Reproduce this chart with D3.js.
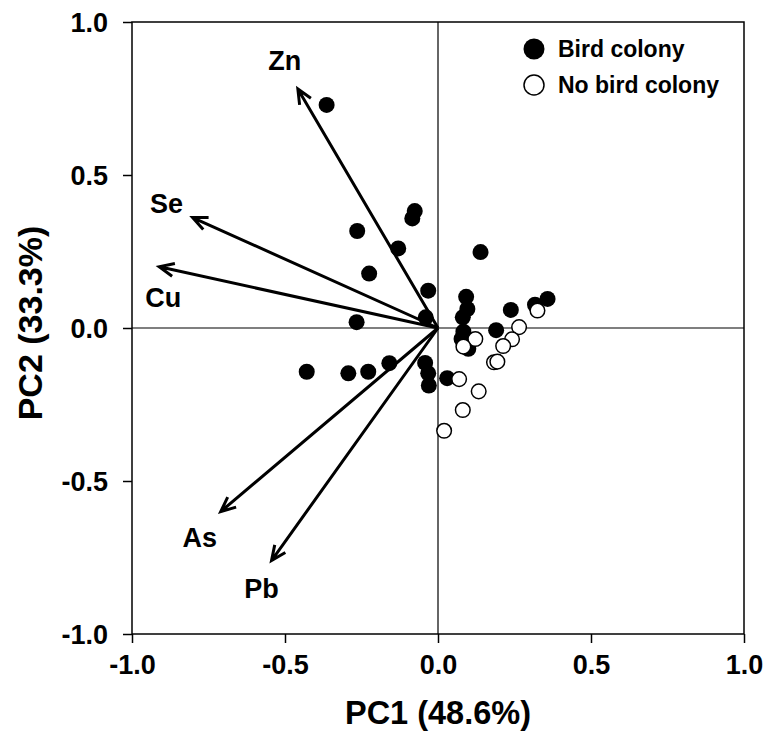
<!DOCTYPE html>
<html>
<head>
<meta charset="utf-8">
<script src="https://cdnjs.cloudflare.com/ajax/libs/d3/7.8.5/d3.min.js"></script>
<style>
  html, body { margin: 0; padding: 0; background: #fff; }
  svg { display: block; }
  text { font-family: "Liberation Sans", Arial, sans-serif; font-weight: bold; fill: #000; }
</style>
</head>
<body>
<svg id="chart" width="775" height="732"></svg>
<script>
// ---- data ----
const birdPC1 = [-0.364, -0.264, -0.076, -0.084, -0.130, -0.225, 0.139, -0.266, -0.429, -0.293, -0.228, -0.159,
                 -0.032, -0.040, 0.092, 0.096, 0.081, 0.083, 0.077, 0.099, 0.238, 0.358, 0.317, 0.190,
                 -0.042, -0.032, -0.030, 0.030];
const birdPC2 = [0.729, 0.317, 0.382, 0.358, 0.260, 0.178, 0.248, 0.019, -0.143, -0.148, -0.143, -0.115,
                 0.122, 0.035, 0.102, 0.062, 0.035, -0.012, -0.036, -0.068, 0.059, 0.095, 0.076, -0.007,
                 -0.114, -0.148, -0.188, -0.164];
const noBirdPC1 = [0.122, 0.083, 0.325, 0.265, 0.242, 0.213, 0.183, 0.194, 0.069, 0.133, 0.081, 0.020];
const noBirdPC2 = [-0.036, -0.061, 0.057, 0.003, -0.037, -0.059, -0.112, -0.110, -0.167, -0.207, -0.268, -0.336];
const elements = ["Zn", "Se", "Cu", "As", "Pb"];
const loadPC1 = [-0.458, -0.802, -0.911, -0.710, -0.544];
const loadPC2 = [0.781, 0.361, 0.200, -0.600, -0.760];
const tickValues = [-1.0, -0.5, 0.0, 0.5, 1.0];
const tickLabels = ["-1.0", "-0.5", "0.0", "0.5", "1.0"];
const legendLabels = ["Bird colony", "No bird colony"];
const xTitle = "PC1 (48.6%)";
const yTitle = "PC2 (33.3%)";

// ---- layout ----
const L = 132, R = 744, T = 22, B = 634;
const svg = d3.select("#chart");
const x = d3.scaleLinear().domain([-1, 1]).range([L, R]);
const y = d3.scaleLinear().domain([-1, 1]).range([B, T]);

// zero reference lines
svg.append("line").attr("x1", x(0)).attr("x2", x(0)).attr("y1", T).attr("y2", B)
  .attr("stroke", "#333").attr("stroke-width", 1.5);
svg.append("line").attr("x1", L).attr("x2", R).attr("y1", y(0)).attr("y2", y(0))
  .attr("stroke", "#555").attr("stroke-width", 1.5);

// axes
const fmt = (d) => tickLabels[tickValues.indexOf(d)];
const xAxis = svg.append("g").attr("transform", `translate(0,${B})`)
  .call(d3.axisBottom(x).tickValues(tickValues).tickFormat(fmt).tickSize(9).tickSizeOuter(0).tickPadding(12));
const yAxis = svg.append("g").attr("transform", `translate(${L},0)`)
  .call(d3.axisLeft(y).tickValues(tickValues).tickFormat(fmt).tickSize(9).tickSizeOuter(0).tickPadding(15));
[xAxis, yAxis].forEach(g => {
  g.select(".domain").remove();
  g.selectAll(".tick line").attr("stroke", "#000").attr("stroke-width", 1.5);
  g.selectAll(".tick text").style("font-size", "27px").attr("fill", "#000")
    .style("font-family", "'Liberation Sans', Arial, sans-serif").style("font-weight", "bold");
});
yAxis.selectAll(".tick text").attr("dy", "0.36em");

// frame
svg.append("rect").attr("x", L).attr("y", T).attr("width", R - L).attr("height", B - T)
  .attr("fill", "none").attr("stroke", "#000").attr("stroke-width", 1.5);

// loading arrows
const labelOffsets = { Zn: [-13, -19], Se: [-26, -5], Cu: [4, 40], As: [-21, 35], Pb: [-10, 37] };
const headLen = 16, headAng = 0.42;
elements.forEach((el, i) => {
  const x0 = x(0), y0 = y(0), x1 = x(loadPC1[i]), y1 = y(loadPC2[i]);
  const a = Math.atan2(y1 - y0, x1 - x0);
  const hx1 = x1 - headLen * Math.cos(a - headAng), hy1 = y1 - headLen * Math.sin(a - headAng);
  const hx2 = x1 - headLen * Math.cos(a + headAng), hy2 = y1 - headLen * Math.sin(a + headAng);
  svg.append("path")
    .attr("d", `M${x0},${y0}L${x1},${y1}M${hx1},${hy1}L${x1},${y1}L${hx2},${hy2}`)
    .attr("fill", "none").attr("stroke", "#000").attr("stroke-width", 3)
    .attr("stroke-linejoin", "miter").attr("stroke-linecap", "butt");
  const off = labelOffsets[el];
  svg.append("text").attr("x", x1 + off[0]).attr("y", y1 + off[1])
    .attr("text-anchor", "middle").style("font-size", "27px").text(el);
});

// points
svg.append("g").selectAll("circle").data(birdPC1).join("circle")
  .attr("cx", (d) => x(d)).attr("cy", (d, i) => y(birdPC2[i])).attr("r", 8).attr("fill", "#000");
svg.append("g").selectAll("circle").data(noBirdPC1).join("circle")
  .attr("cx", (d) => x(d)).attr("cy", (d, i) => y(noBirdPC2[i])).attr("r", 7.3)
  .attr("fill", "#fff").attr("stroke", "#000").attr("stroke-width", 1.5);

// legend
const lg = svg.append("g");
legendLabels.forEach((lab, i) => {
  const cy = 49 + i * 36;
  lg.append("circle").attr("cx", 534).attr("cy", cy).attr("r", i === 0 ? 10.5 : 10)
    .attr("fill", i === 0 ? "#000" : "#fff").attr("stroke", "#000").attr("stroke-width", i === 0 ? 0 : 1.5);
  lg.append("text").attr("x", 558).attr("y", cy + 8).style("font-size", "23px").text(lab);
});

// axis titles
svg.append("text").attr("x", x(0)).attr("y", 724).attr("text-anchor", "middle")
  .style("font-size", "32.5px").text(xTitle);
svg.append("text").attr("transform", `translate(42,${y(0) - 5}) rotate(-90)`)
  .attr("text-anchor", "middle").style("font-size", "34px").text(yTitle);
</script>
</body>
</html>
